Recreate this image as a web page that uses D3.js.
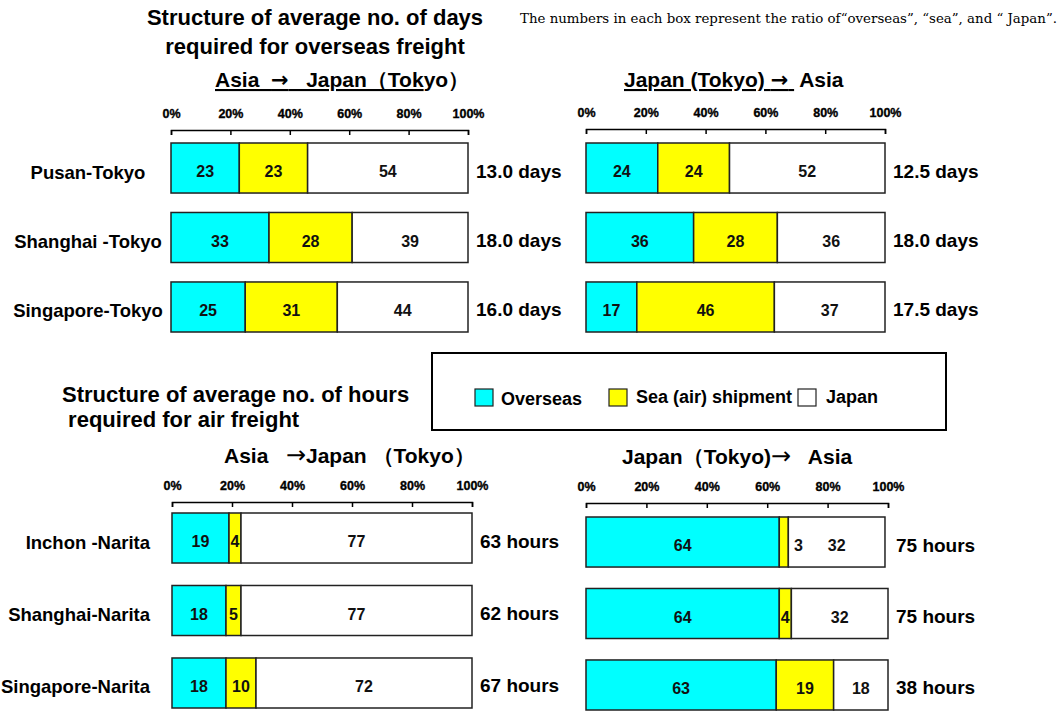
<!DOCTYPE html>
<html>
<head>
<meta charset="utf-8">
<script src="https://cdn.jsdelivr.net/npm/d3@7"></script>
<style>
  html, body { margin: 0; padding: 0; background: #fff; }
  svg { display: block; }
</style>
</head>
<body>
<svg id="chart" width="1063" height="711"></svg>
<script>
// ---------------- DATA ----------------
const tickValues = [0, 20, 40, 60, 80, 100];
const seriesNames = ["Overseas", "Sea (air) shipment", "Japan"];
const seriesColors = ["#00FFFF", "#FFFF00", "#FFFFFF"];

const seaCities = ["Pusan-Tokyo", "Shanghai -Tokyo", "Singapore-Tokyo"];
const seaImportOverseas = [23, 33, 25];
const seaImportSea = [23, 28, 31];
const seaImportJapan = [54, 39, 44];
const seaImportDays = [13.0, 18.0, 16.0];

const seaExportOverseas = [24, 36, 17];
const seaExportSea = [24, 28, 46];
const seaExportJapan = [52, 36, 37];
const seaExportDays = [12.5, 18.0, 17.5];

const airCities = ["Inchon -Narita", "Shanghai-Narita", "Singapore-Narita"];
const airImportOverseas = [19, 18, 18];
const airImportAir = [4, 5, 10];
const airImportJapan = [77, 77, 72];
const airImportHours = [63, 62, 67];

const airExportOverseas = [64, 64, 63];
const airExportAir = [3, 4, 19];
const airExportJapan = [32, 32, 18];
const airExportHours = [75, 75, 38];

// ---------------- LAYOUT ----------------
const svg = d3.select("#chart");
const FONT = "'Liberation Sans', Arial, sans-serif";
const ARROWFONT = "'DejaVu Sans', sans-serif";

function T(sel) {
  return sel.append("text").style("font-family", FONT).style("font-weight", "bold").attr("fill", "#000");
}

const panels = [
  { cities: seaCities, values: [seaImportOverseas, seaImportSea, seaImportJapan],
    dur: seaImportDays.map(d => d.toFixed(1) + " days"),
    x0: 171, x1: 468, axisY: 130, y0: 143, y1: 332, pad: 0.28,
    labelX: 88, labelAnchor: "middle", showLabels: true },
  { cities: seaCities, values: [seaExportOverseas, seaExportSea, seaExportJapan],
    dur: seaExportDays.map(d => d.toFixed(1) + " days"),
    x0: 586, x1: 885, axisY: 129, y0: 143, y1: 332, pad: 0.28, showLabels: false },
  { cities: airCities, values: [airImportOverseas, airImportAir, airImportJapan],
    dur: airImportHours.map(d => d + " hours"),
    x0: 172, x1: 472, axisY: 502, y0: 513, y1: 708, pad: 0.31,
    labelX: 150, labelAnchor: "end", showLabels: true },
  { cities: airCities, values: [airExportOverseas, airExportAir, airExportJapan],
    dur: airExportHours.map(d => d + " hours"),
    x0: 586, x1: 888, axisY: 503, y0: 517, y1: 710, pad: 0.30, showLabels: false }
];

panels.forEach(p => {
  const g = svg.append("g");
  const x = d3.scaleLinear().domain([0, 100]).range([p.x0, p.x1]);
  const y = d3.scaleBand().domain(p.cities).range([p.y0, p.y1]).paddingInner(p.pad).paddingOuter(0);

  const ax = g.append("g").attr("transform", `translate(0,${p.axisY})`)
    .call(d3.axisTop(x).tickValues(tickValues).tickSizeInner(-5).tickSizeOuter(-5)
      .tickPadding(12).tickFormat(d => d + "%"));
  ax.select(".domain").attr("stroke", "#000").attr("stroke-width", 1.5);
  ax.selectAll(".tick line").attr("stroke", "#000").attr("stroke-width", 1.5);
  ax.selectAll(".tick text").style("font-family", FONT).style("font-weight", "bold")
    .attr("font-size", 12.5).attr("fill", "#000").attr("stroke", "#000").attr("stroke-width", 0.35);

  const rows = p.cities.map((c, i) => {
    const obj = { city: c, dur: p.dur[i] };
    seriesNames.forEach((s, k) => obj[s] = p.values[k][i]);
    return obj;
  });
  const stacked = d3.stack().keys(seriesNames)(rows);

  const rectG = g.append("g"), labG = g.append("g");
  stacked.forEach((layer, k) => {
    layer.forEach(seg => {
      const row = seg.data;
      const xa = x(seg[0]), xb = x(seg[1]);
      const yy = y(row.city), h = y.bandwidth();
      rectG.append("rect").attr("x", xa).attr("y", yy).attr("width", xb - xa).attr("height", h)
        .attr("fill", seriesColors[k]).attr("stroke", "#222").attr("stroke-width", 1.5);
      const v = seg[1] - seg[0];
      const narrow = (xb - xa) < 11;
      T(labG)
        .attr("x", narrow ? xb + 10 : (xa + xb) / 2)
        .attr("y", yy + h / 2 + 3.5)
        .attr("text-anchor", "middle").attr("dominant-baseline", "central")
        .attr("font-size", 16).attr("fill", "#111")
        .text(v);
    });
  });

  rows.forEach(r => {
    T(g).attr("x", p.x1 + 8).attr("y", y(r.city) + y.bandwidth() / 2 + 3)
      .attr("dominant-baseline", "central").attr("font-size", 19).text(r.dur);
  });

  if (p.showLabels) {
    rows.forEach(r => {
      T(g).attr("x", p.labelX).attr("y", y(r.city) + y.bandwidth() / 2 + 4)
        .attr("text-anchor", p.labelAnchor).attr("dominant-baseline", "central")
        .attr("font-size", 18.5).text(r.city);
    });
  }
});

// ---------------- TITLES ----------------
T(svg).attr("x", 315).attr("y", 25).attr("text-anchor", "middle")
  .attr("font-size", 22).text("Structure of average no. of days");
T(svg).attr("x", 315).attr("y", 54).attr("text-anchor", "middle")
  .attr("font-size", 22).text("required for overseas freight");

const st1 = T(svg).attr("x", 215).attr("y", 87).attr("font-size", 21).attr("xml:space", "preserve");
const u1 = st1.append("tspan").attr("text-decoration", "underline");
u1.append("tspan").text("Asia  ");
u1.append("tspan").style("font-family", ARROWFONT).text("\u2192");
u1.append("tspan").text("   Japan\uFF08Tok");
st1.append("tspan").text("yo\uFF09");

const st2 = T(svg).attr("x", 624).attr("y", 87).attr("font-size", 21).attr("xml:space", "preserve");
const u2 = st2.append("tspan").attr("text-decoration", "underline");
u2.append("tspan").text("Japan (Tokyo) ");
u2.append("tspan").style("font-family", ARROWFONT).text("\u2192");
u2.append("tspan").text(" ");
st2.append("tspan").text(" Asia");

svg.append("text").attr("x", 1057).attr("y", 23).attr("text-anchor", "end")
  .style("font-family", "'DejaVu Serif', 'Liberation Serif', serif").style("font-weight", "normal")
  .attr("font-size", 13.5).attr("fill", "#000")
  .attr("textLength", 537).attr("lengthAdjust", "spacingAndGlyphs")
  .text("The numbers in each box represent the ratio of\u201Coverseas\u201D, \u201Csea\u201D, and \u201C Japan\u201D.");

T(svg).attr("x", 62).attr("y", 402).attr("font-size", 22)
  .text("Structure of average no. of hours");
T(svg).attr("x", 62).attr("y", 427).attr("font-size", 22).attr("xml:space", "preserve")
  .text(" required for air freight");

const st3 = T(svg).attr("x", 224).attr("y", 463).attr("font-size", 21).attr("xml:space", "preserve");
st3.append("tspan").text("Asia   ");
st3.append("tspan").style("font-family", ARROWFONT).style("font-weight", "normal").attr("font-size", 24).text("\u2192");
st3.append("tspan").text("Japan \uFF08Tokyo\uFF09");

const st4 = T(svg).attr("x", 622).attr("y", 464).attr("font-size", 21).attr("xml:space", "preserve");
st4.append("tspan").text("Japan\uFF08Tokyo)");
st4.append("tspan").style("font-family", ARROWFONT).style("font-weight", "normal").attr("font-size", 24).text("\u2192");
st4.append("tspan").text("   Asia");

// ---------------- LEGEND ----------------
svg.append("rect").attr("x", 432).attr("y", 353).attr("width", 514).attr("height", 77)
  .attr("fill", "none").attr("stroke", "#000").attr("stroke-width", 2);
const legendX = [475, 609, 798];
const legendTextX = [501, 636, 826];
seriesNames.map((s, i) => (i === 2 ? "Japan" : s)).forEach((s, i) => {
  svg.append("rect").attr("x", legendX[i]).attr("y", 389).attr("width", 18).attr("height", 17)
    .attr("fill", seriesColors[i]).attr("stroke", "#222").attr("stroke-width", 1.2);
  T(svg).attr("x", legendTextX[i]).attr("y", i === 0 ? 399 : 397)
    .attr("dominant-baseline", "central").attr("font-size", 18).text(s);
});
</script>
</body>
</html>
